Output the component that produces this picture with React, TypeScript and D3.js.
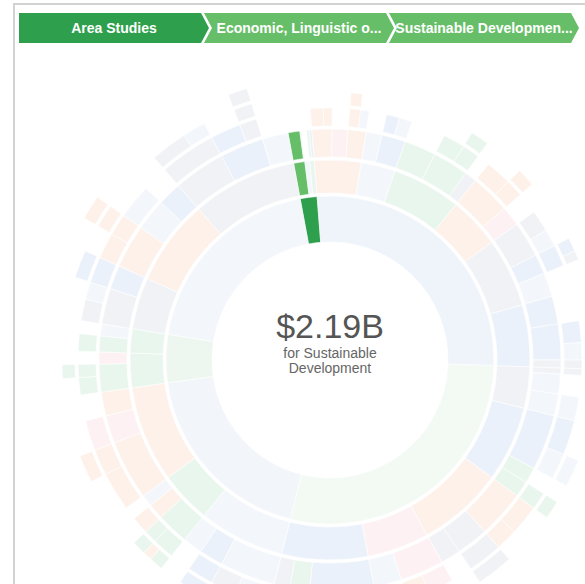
import * as d3 from 'd3';

type Leaf = [string, number, string];

// Funding by field, $M. Ids encode the path: "S.3.2.1" -> S > S.3 > S.3.2 > S.3.2.1
const categoryIds = ['A', 'S', 'E', 'N', 'L', 'H'];
const categoryNames = ['Area Studies', 'Social Sciences', 'Environmental Sciences', 'Engineering', 'Life Sciences', 'Humanities'];

const areaLeaves: Leaf[] = [
  ['A.1.1', 2190, 'g'], ['A.1.2', 200, 'g'], ['A.2', 1000, 'l'], ['A.3.1', 500, 'g'], ['A.3.2', 490, 'b'],
];
const socialLeaves: Leaf[] = [
  ['S.1.1.1', 2190, 'o'], ['S.1.1.2', 1460, 'o'], ['S.1.2', 2920, 'p'], ['S.1.3.1.1', 1825, 'o'], ['S.1.3.2', 1460, 'l'],
  ['S.2.1', 2920, 'l'], ['S.2.2.1', 2190, 'b'], ['S.2.2.2', 2190, 'l'],
  ['S.3.1', 5840, 'g'], ['S.3.2.1', 3650, 'g'], ['S.3.2.2.1', 2920, 'g'], ['S.3.3', 2190, 's'],
  ['S.4.1.1', 4380, 'o'], ['S.4.1.2.1', 2920, 'o'], ['S.4.2', 3650, 'p'],
  ['S.5.1.1', 3650, 's'], ['S.5.1.2', 2920, 'l'], ['S.5.2.1.1', 2190, 'b'], ['S.5.2.1.2', 1460, 's'], ['S.5.3', 4380, 'l'],
  ['S.6.1', 5110, 'b'], ['S.6.2.1', 3650, 'b'], ['S.6.2.2', 2920, 'l'], ['S.6.3.1.1', 1460, 's'],
];
const envLeaves: Leaf[] = [
  ['E.1.1.1.1', 1095, 's'], ['E.1.2', 3650, 'l'], ['E.1.3.1', 4015, 'l'],
  ['E.2.1.1', 5840, 'b'], ['E.2.1.2.1', 4380, 'l'], ['E.2.2', 2920, 'g'], ['E.2.3.1.1', 2920, 'g'],
  ['E.3.1.1', 5110, 'o'], ['E.3.1.2', 3650, 'o'], ['E.3.2.1.1', 5840, 's'], ['E.3.3', 3650, 's'],
  ['E.4.1.1', 4380, 'p'], ['E.4.1.2.1', 3650, 'o'], ['E.4.2', 5110, 'l'],
  ['E.5.1.1.1', 7300, 'b'], ['E.5.1.2', 4380, 'l'], ['E.5.2', 3650, 'g'], ['E.5.3.1', 2920, 's'],
];
const engLeaves: Leaf[] = [
  ['N.1.1.1', 5840, 'l'], ['N.1.1.2', 4380, 's'], ['N.1.2.1.1', 4380, 'b'], ['N.1.3', 3650, 'l'],
  ['N.2.1.1.1', 2190, 'g'], ['N.2.1.1.2', 1460, 'o'], ['N.2.1.2.1', 2190, 'g'], ['N.2.2.1', 2920, 'o'], ['N.2.3', 2190, 'l'],
  ['N.3.1.1', 6570, 'o'], ['N.3.1.2.1', 4380, 'o'], ['N.3.2.1', 5110, 'p'], ['N.3.3', 4380, 'o'],
];
const lifeLeaves: Leaf[] = [
  ['L.1.1.1', 2920, 'g'], ['L.1.1.2.1', 2190, 'g'], ['L.1.2', 2190, 'p'], ['L.2.1.1', 2920, 'g'], ['L.2.2', 2190, 'l'],
];
const humLeaves: Leaf[] = [
  ['H.1.1.1', 3650, 's'], ['H.1.1.2', 2920, 'l'], ['H.1.2.1.1', 4380, 'b'],
  ['H.2.1.1', 4380, 'o'], ['H.2.1.2.1.1', 3650, 'o'], ['H.2.2.1', 5840, 'l'], ['H.2.3', 4380, 'b'],
  ['H.3.1.1.1', 5840, 's'], ['H.3.1.1.2', 3650, 'l'], ['H.3.2.1', 5110, 'b'], ['H.3.2.2.1.1', 2920, 's'], ['H.3.3', 4745, 'l'],
];

// hovered sequence
const focusPath = ['A', 'A.1', 'A.1.1'];
const focusNames = ['Area Studies', 'Economic, Linguistic or Cultural Studies', 'Sustainable Development'];

const kindColors: Record<string, string> = {
  b: '#5b8fd6', l: '#9dbbe6', g: '#4cb86a', o: '#f08a4b', s: '#8d97aa', p: '#ee8fa6',
};
const categoryColors = ['#4cb86a', '#7fa3dc', '#9fd3a3', '#94acd6', '#6cc07f', '#9fb3d9'];
const focusColors = ['#2e9f4c', '#66be68', '#66be68'];

const W = 585, H = 584;
const cx = 330, cy = 360;
const ringRadii = [118, 167, 203, 234, 255, 271];
const fadeOpacity = 0.12;

interface Row { id: string; parent: string | null; value: number; kind: string }

function buildRows(): Row[] {
  const rows = new Map<string, Row>();
  rows.set('root', { id: 'root', parent: null, value: 0, kind: '' });
  const all = [...areaLeaves, ...socialLeaves, ...envLeaves, ...engLeaves, ...lifeLeaves, ...humLeaves];
  all.forEach(([id, value, kind]) => {
    const parts = id.split('.');
    for (let i = 1; i <= parts.length; i++) {
      const pid = parts.slice(0, i).join('.');
      if (!rows.has(pid)) {
        rows.set(pid, {
          id: pid,
          parent: i === 1 ? 'root' : parts.slice(0, i - 1).join('.'),
          value: 0,
          kind,
        });
      }
    }
    rows.get(id)!.value = value;
  });
  return Array.from(rows.values());
}

function crumbLabel(name: string) {
  return name.length > 22 ? name.slice(0, 22) + '...' : name;
}

export default function App() {
  const root = d3.stratify<Row>().id(d => d.id).parentId(d => d.parent)(buildRows())
    .sum(d => d.value);
  d3.partition<Row>().size([1, 1])(root);

  const a0 = -10.5 * Math.PI / 180;
  const angle = d3.scaleLinear().domain([0, 1]).range([a0, a0 + 2 * Math.PI]);
  const radius = d3.scaleLinear().domain([1, 2, 3, 4, 5, 6]).range(ringRadii);

  const arc = d3.arc<d3.HierarchyRectangularNode<Row>>()
    .startAngle(d => angle(d.x0))
    .endAngle(d => angle(d.x1))
    .innerRadius(d => radius(d.depth))
    .outerRadius(d => radius(d.depth + 1) - 3);

  const nodes = root.descendants().filter(d => d.depth > 0) as d3.HierarchyRectangularNode<Row>[];

  const colorOf = (d: d3.HierarchyRectangularNode<Row>) => {
    const fi = focusPath.indexOf(d.id!);
    if (fi >= 0) return focusColors[fi];
    if (d.depth === 1) return categoryColors[categoryIds.indexOf(d.id!)];
    return kindColors[d.data.kind];
  };

  const focusNode = root.find(d => d.id === focusPath[focusPath.length - 1])!;
  const valueLabel = `$${(focusNode.value! / 1000).toFixed(2)}B`;
  const focusName = focusNames[focusNames.length - 1];

  // breadcrumbs
  const b = { x: 19, y: 13, w: 182, h: 30, s: 3, t: 8 };
  const crumbPoints = (i: number) => {
    const pts = [[0, 0], [b.w, 0], [b.w + b.t, b.h / 2], [b.w, b.h], [0, b.h]];
    if (i > 0) pts.push([b.t, b.h / 2]);
    return pts.map(p => p.join(',')).join(' ');
  };

  return (
    <svg width={W} height={H} style={{ position: 'absolute', left: 0, top: 0, background: '#fff' }}
      fontFamily="Helvetica, Arial, 'Liberation Sans', sans-serif">
      {/* panel frame */}
      <line x1={14} x2={14} y1={3} y2={H} stroke="#d2d2d2" strokeWidth={2} />
      <line x1={13} x2={W} y1={4} y2={4} stroke="#d2d2d2" strokeWidth={2} />

      {/* sunburst */}
      <g transform={`translate(${cx},${cy})`}>
        {nodes.map(d => {
          const focused = focusPath.includes(d.id!);
          return (
            <path
              key={d.id}
              d={arc(d)!}
              fill={colorOf(d)}
              fillOpacity={focused ? 1 : fadeOpacity}
              stroke="#fff"
              strokeWidth={0.6}
            />
          );
        })}
      </g>

      {/* explanation */}
      <g transform={`translate(${cx},0)`} fill="#555">
        <text textAnchor="middle" y={338} fontSize={34}>{valueLabel}</text>
        <text textAnchor="middle" y={358} fontSize={14} fill="#666">for Sustainable</text>
        <text textAnchor="middle" y={373} fontSize={14} fill="#666">
          {focusName.split(' ').slice(1).join(' ')}
        </text>
      </g>

      {/* sequence breadcrumbs */}
      <g transform={`translate(${b.x},${b.y})`}>
        {focusNames.map((name, i) => (
          <g key={i} transform={`translate(${i * (b.w + b.s)},0)`}>
            <polygon points={crumbPoints(i)} fill={focusColors[i]} />
            <text
              x={(b.w + b.t) / 2}
              y={b.h / 2}
              dy="0.35em"
              textAnchor="middle"
              fontSize={14}
              fontWeight="bold"
              fill="#fff"
            >
              {crumbLabel(name)}
            </text>
          </g>
        ))}
      </g>
    </svg>
  );
}
